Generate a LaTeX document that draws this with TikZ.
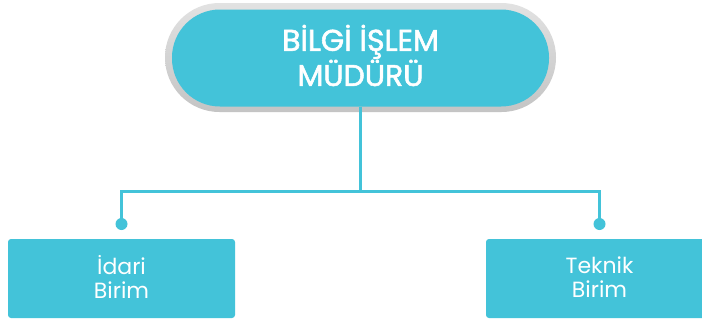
\documentclass[tikz,border=0pt]{standalone}
\usepackage{fontspec}
\setmainfont{Poppins}
\newfontfamily\titlefont{Poppins}[FakeBold=1.8]
\usetikzlibrary{positioning}
\definecolor{teal1}{HTML}{43C3D9}
\definecolor{grayA}{HTML}{E2E2E2}
\definecolor{grayB}{HTML}{C4C4C4}
\tikzset{
  conn/.style={draw=teal1, line width=3pt},
  dotnode/.style={circle, fill=teal1, inner sep=0pt, minimum size=12pt},
  unitbox/.style={rectangle, rounded corners=3pt, fill=teal1, minimum width=227pt, minimum height=79pt, inner sep=0pt},
  unittext/.style={text=white, align=center, font=\fontsize{22}{24}\selectfont, inner sep=0pt},
  pill/.style={rectangle, rounded corners=48pt, fill=teal1, minimum width=377pt, minimum height=97pt, inner sep=0pt},
  titletext/.style={text=white, align=center, font=\titlefont\fontsize{30}{31}\selectfont, inner sep=0pt}
}
\begin{document}
\begin{tikzpicture}[x=1pt,y=-1pt]
\useasboundingbox (0,0) rectangle (702,322);
\fill[white] (0,0) rectangle (702,322);
\shade[top color=grayA, bottom color=grayB, rounded corners=54.5pt] (165,3) rectangle (556,112);
\node[pill] (top) at (360.5,58) {};
\node[titletext] (title) at (360.5,55.5) {BİLGİ İŞLEM\\MÜDÜRÜ};
\coordinate (mid) at (360.5,191);
\coordinate (lc) at (121.5,191);
\coordinate (rc) at (599.5,191);
\node[dotnode] (ld) at (121.5,224) {};
\node[dotnode] (rd) at (599.5,224) {};
\draw[conn] (top.south -| mid) -- (mid);
\draw[conn] (ld.center) -- (lc) -- (rc) -- (rd.center);
\node[unitbox] (idari) at (121.5,278.5) {};
\node[unittext] (idaritext) at (121.5,277) {İdari\\Birim};
\node[unitbox] (teknik) at (599.5,278.5) {};
\node[unittext] (teknitext) at (599.5,277) {Teknik\\Birim};
\end{tikzpicture}
\end{document}
